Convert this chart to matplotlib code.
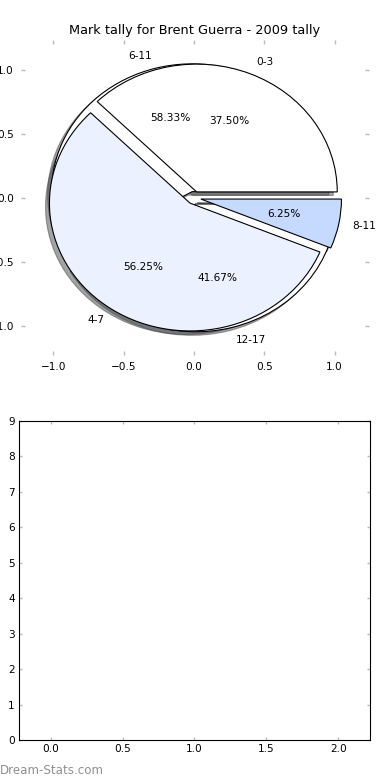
import matplotlib
matplotlib.use("Agg")
import matplotlib.pyplot as plt

# Data
title = "Mark tally for Brent Guerra - 2009 tally"
labels_a = ["0-3", "4-7", "8-11"]
values_a = [6, 9, 1]
labels_b = ["6-11", "12-17"]
values_b = [7, 5]
explode_a = [0.05, 0.05, 0.05]
explode_b = [0.05, 0.05]
colors_a = ["#FFFFFF", "#EBF1FE", "#C6D9FE"]
colors_b = ["#FFFFFF", "#FFFFFF"]
pie_ticks = [-1.0, -0.5, 0.0, 0.5, 1.0]
bar_xticks = [0.0, 0.5, 1.0, 1.5, 2.0]
bar_yticks = list(range(0, 10))

plt.rcParams['font.family'] = ['DejaVu Sans']
W, H = 390, 780
fig = plt.figure(figsize=(W / 100, H / 100), dpi=100)

def axrect(x0, y0, x1, y1):
    return [x0 / W, 1 - y1 / H, (x1 - x0) / W, (y1 - y0) / H]

tick_gray = "#BBBBBB"
fs = 7.6

ax1 = fig.add_axes(axrect(21, 40, 369, 355))
wp = dict(edgecolor="black", linewidth=0.8)
tp = dict(fontsize=fs, color="black")
ax1.pie(values_b, labels=labels_b, explode=explode_b, colors=colors_b,
        autopct="%1.2f%%", shadow=True, wedgeprops=wp, textprops=tp, frame=True)
ax1.pie(values_a, labels=labels_a, explode=explode_a, colors=colors_a,
        autopct="%1.2f%%", shadow=True, wedgeprops=wp, textprops=tp, frame=True)
ax1.set_aspect("auto")
ax1.set_xlim(-1.23, 1.245)
ax1.set_ylim(-1.23, 1.235)
ax1.set_xticks(pie_ticks)
ax1.set_yticks(pie_ticks)
for s in ax1.spines.values():
    s.set_visible(False)
ax1.tick_params(direction="in", length=3, width=1, color=tick_gray,
                labelsize=fs, top=True, right=True, pad=5)
ax1.set_title(title, fontsize=9.3, pad=4)

ax2 = fig.add_axes(axrect(19, 421, 370, 740))
ax2.set_xlim(-0.22, 2.22)
ax2.set_ylim(0, 9)
ax2.set_xticks(bar_xticks)
ax2.set_yticks(bar_yticks)
for s in ax2.spines.values():
    s.set_linewidth(0.8)
ax2.tick_params(direction="in", length=2.5, width=1, color=tick_gray,
                labelsize=fs, top=True, right=True, pad=3)

fig.text(0.0, 1 - 770 / H, "Dream-Stats.com", fontsize=8.6, color="#909090",
         ha="left", va="center")

fig.savefig("out.png", dpi=100)
